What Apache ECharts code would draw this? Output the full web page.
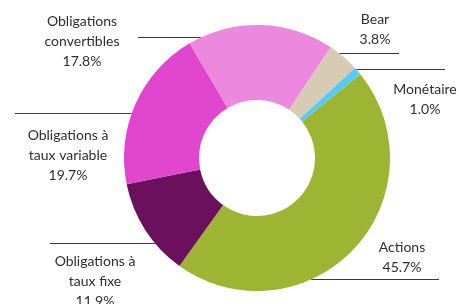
<!DOCTYPE html>
<html>
<head>
<meta charset="utf-8">
<script src="https://cdn.jsdelivr.net/npm/echarts@6/dist/echarts.min.js"></script>
<style>
  html, body { margin: 0; padding: 0; background: #fff; }
  #chart { width: 459px; height: 304px; }
</style>
</head>
<body>
<div id="chart"></div>
<script>
// slices, clockwise from the top-right
const names = [
  'Actions',
  'Obligations à\ntaux fixe',
  'Obligations à\ntaux variable',
  'Obligations\nconvertibles',
  'Bear',
  'Monétaire'
];
const values = [45.7, 11.9, 19.7, 17.8, 3.8, 1.0];
const colors = ['#9db532', '#6b105c', '#e146cf', '#ec88dd', '#d8cbb4', '#56c9f5'];

// where each label sits and where its leader line ends
const cx = 257, cy = 158, rOuter = 133, rInner = 58;
const labelSpots = [
  { x: 402, y: 257, lineY: 279, side: 1, lineEnd: 439 },
  { x: 95, y: 281, lineY: 243, side: -1, lineEnd: 50 },
  { x: 68, y: 155, lineY: 113, side: -1, lineEnd: 15 },
  { x: 82, y: 41, lineY: 37, side: -1, lineEnd: 138 },
  { x: 375, y: 29, lineY: 53, side: 1, lineEnd: 399 },
  { x: 425, y: 99, lineY: 69, side: 1, lineEnd: 445 }
];

const chart = echarts.init(document.getElementById('chart'));
chart.setOption({
  animation: false,
  series: [{
    type: 'pie',
    center: [cx, cy],
    radius: [rInner, rOuter],
    startAngle: 39,
    clockwise: true,
    avoidLabelOverlap: false,
    data: names.map((n, i) => ({
      name: n,
      value: values[i],
      itemStyle: { color: colors[i] }
    })),
    label: {
      show: true,
      position: 'outside',
      formatter: p => p.name + '\n' + p.value.toFixed(1) + '%',
      fontFamily: 'Lato',
      fontSize: 14,
      lineHeight: 20,
      color: '#2e2e2e',
      align: 'center'
    },
    labelLine: {
      show: true,
      lineStyle: { color: '#3a3a3a', width: 1 }
    },
    labelLayout: function (params) {
      const s = labelSpots[params.dataIndex];
      const ly = s.lineY + 0.5;
      const dy = ly - cy;
      const x0 = cx + s.side * Math.sqrt(rOuter * rOuter - dy * dy);
      return {
        x: s.x,
        y: s.y,
        align: 'center',
        verticalAlign: 'middle',
        labelLinePoints: [[x0, ly], [s.lineEnd, ly], [s.lineEnd, ly]]
      };
    },
    emphasis: { disabled: true }
  }]
});
</script>
</body>
</html>
